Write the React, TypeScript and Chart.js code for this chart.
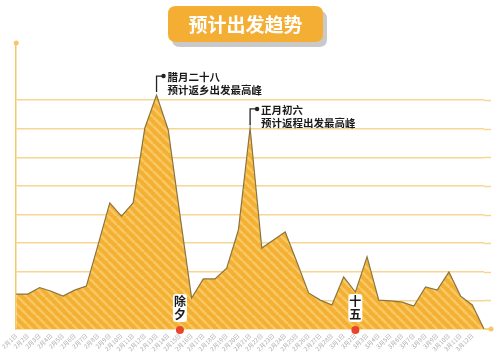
import React, { useEffect, useRef } from 'react';
import { Chart, registerables } from 'chart.js';
Chart.register(...registerables);

const dateLabels = [
  '2月1日', '2月2日', '2月3日', '2月4日', '2月5日', '2月6日', '2月7日', '2月8日', '2月9日', '2月10日',
  '2月11日', '2月12日', '2月13日', '2月14日', '2月15日', '2月16日', '2月17日', '2月18日', '2月19日', '2月20日',
  '2月21日', '2月22日', '2月23日', '2月24日', '2月25日', '2月26日', '2月27日', '2月28日', '3月1日', '3月2日',
  '3月3日', '3月4日', '3月5日', '3月6日', '3月7日', '3月8日', '3月9日', '3月10日', '3月11日', '3月12日',
  '',
];

const departures = [
  12.2, 12.2, 14.5, 13.2, 11.5, 13.6, 15.0, 29.4, 44.1, 39.5,
  44.1, 70.3, 81.8, 69.6, 39.9, 10.8, 17.5, 17.5, 21.3, 34.6,
  70.3, 28.3, 31.1, 33.9, 23.4, 12.6, 10.1, 8.4, 18.2, 12.9,
  25.2, 10.1, 9.8, 9.4, 8.0, 14.7, 13.6, 19.9, 11.5, 8.4,
  0,
];

const gridValues = [10, 20, 30, 40, 50, 60, 70, 80];
const yMax = 100;

const titleText = '预计出发趋势';
const peakIndexes = [12, 20];
const peakLines = [
  ['腊月二十八', '预计返乡出发最高峰'],
  ['正月初六', '预计返程出发最高峰'],
];
const festivalIndexes = [14, 29];
const festivalTexts = ['除夕', '十五'];

const CJK = '"Noto Sans CJK SC", "Noto Sans", sans-serif';
const GRID = '#F6D690';
const AXIS = '#F3C76A';

function roundRect(ctx: CanvasRenderingContext2D, x: number, y: number, w: number, h: number, r: number) {
  ctx.beginPath();
  ctx.moveTo(x + r, y);
  ctx.lineTo(x + w - r, y);
  ctx.quadraticCurveTo(x + w, y, x + w, y + r);
  ctx.lineTo(x + w, y + h - r);
  ctx.quadraticCurveTo(x + w, y + h, x + w - r, y + h);
  ctx.lineTo(x + r, y + h);
  ctx.quadraticCurveTo(x, y + h, x, y + h - r);
  ctx.lineTo(x, y + r);
  ctx.quadraticCurveTo(x, y, x + r, y);
  ctx.closePath();
}

function makePattern(): CanvasPattern | string {
  const s = 9;
  const c = document.createElement('canvas');
  c.width = s;
  c.height = s;
  const g = c.getContext('2d');
  if (!g) return '#F4B23A';
  g.fillStyle = '#F4B032';
  g.fillRect(0, 0, s, s);
  g.strokeStyle = '#F8C865';
  g.lineWidth = 2.6;
  for (const x0 of [-s, 0, s]) {
    g.beginPath();
    g.moveTo(x0, 0);
    g.lineTo(x0 + s, s);
    g.stroke();
  }
  const p = g.createPattern(c, 'repeat');
  return p || '#F4B23A';
}

const EXT = 7;

const decorPlugin = {
  id: 'decor',
  beforeDatasetsDraw(chart: any) {
    const ctx: CanvasRenderingContext2D = chart.ctx;
    const ys = chart.scales.y;
    const area = chart.chartArea;
    ctx.save();
    ctx.lineWidth = 1.5;
    ctx.strokeStyle = GRID;
    gridValues.forEach((v) => {
      const y = Math.round(ys.getPixelForValue(v)) + 0.5;
      ctx.beginPath();
      ctx.moveTo(area.right, y);
      ctx.lineTo(area.right + EXT, y);
      ctx.stroke();
    });
    ctx.restore();
  },
  afterDraw(chart: any) {
    const ctx: CanvasRenderingContext2D = chart.ctx;
    const xs = chart.scales.x;
    const ys = chart.scales.y;
    const area = chart.chartArea;
    ctx.save();

    // x axis extension and end dots
    ctx.strokeStyle = AXIS;
    ctx.lineWidth = 1.5;
    ctx.beginPath();
    ctx.moveTo(area.right, area.bottom);
    ctx.lineTo(area.right + EXT, area.bottom);
    ctx.stroke();
    ctx.fillStyle = AXIS;
    ctx.beginPath();
    ctx.arc(area.left, area.top, 2.5, 0, Math.PI * 2);
    ctx.fill();
    ctx.beginPath();
    ctx.arc(area.right + EXT, area.bottom, 2.5, 0, Math.PI * 2);
    ctx.fill();

    // title box
    const bx = 168, by = 6, bw = 155, bh = 36;
    ctx.fillStyle = '#C9C9C9';
    roundRect(ctx, bx + 4, by + 5, bw, bh, 8);
    ctx.fill();
    ctx.fillStyle = '#F4AE34';
    roundRect(ctx, bx, by, bw, bh, 8);
    ctx.fill();
    ctx.fillStyle = '#FFFFFF';
    ctx.font = 'bold 19px ' + CJK;
    ctx.textAlign = 'center';
    ctx.textBaseline = 'middle';
    ctx.fillText(titleText, bx + bw / 2, by + bh / 2 + 1);

    // peak notes
    peakIndexes.forEach((idx, k) => {
      const px = xs.getPixelForValue(idx);
      const py = ys.getPixelForValue(departures[idx] as number);
      const topY = py - 19;
      ctx.strokeStyle = '#222';
      ctx.lineWidth = 1.3;
      ctx.beginPath();
      ctx.moveTo(px, py - 3);
      ctx.lineTo(px, topY);
      ctx.lineTo(px + 6, topY);
      ctx.stroke();
      ctx.fillStyle = '#222';
      ctx.beginPath();
      ctx.arc(px + 7, topY, 2.2, 0, Math.PI * 2);
      ctx.fill();
      ctx.font = 'bold 10.5px ' + CJK;
      ctx.textAlign = 'left';
      ctx.textBaseline = 'middle';
      ctx.fillStyle = '#1a1a1a';
      ctx.fillText(peakLines[k][0], px + 11, topY + 1);
      ctx.fillText(peakLines[k][1], px + 11, topY + 14);
    });

    // festival marks
    festivalIndexes.forEach((idx, k) => {
      const fx = xs.getPixelForValue(idx);
      const w = 14, h = 28;
      const top = area.bottom - 35;
      ctx.fillStyle = '#FFFFFF';
      roundRect(ctx, fx - w / 2, top, w, h, 3);
      ctx.fill();
      ctx.fillStyle = '#1a1a1a';
      ctx.font = 'bold 12px ' + CJK;
      ctx.textAlign = 'center';
      ctx.textBaseline = 'middle';
      const t = festivalTexts[k];
      ctx.fillText(t[0], fx, top + 7.5);
      ctx.fillText(t[1], fx, top + 20.5);
      ctx.fillStyle = '#E8452C';
      ctx.beginPath();
      ctx.arc(fx, area.bottom + 1, 4, 0, Math.PI * 2);
      ctx.fill();
    });

    ctx.restore();
  },
};

export default function App() {
  const ref = useRef<HTMLCanvasElement>(null);

  useEffect(() => {
    document.body.style.margin = '0';
    const canvas = ref.current;
    if (!canvas) return;
    const chart = new Chart(canvas, {
      type: 'line',
      data: {
        labels: dateLabels,
        datasets: [
          {
            data: departures,
            borderColor: '#8A7540',
            borderWidth: 1.2,
            backgroundColor: makePattern() as any,
            fill: 'origin',
            pointRadius: 0,
            tension: 0,
          },
        ],
      },
      options: {
        animation: false,
        responsive: false,
        maintainAspectRatio: false,
        layout: { padding: { left: 12, top: 43, right: 16, bottom: 0 } },
        plugins: { legend: { display: false }, tooltip: { enabled: false }, title: { display: false } },
        scales: {
          x: {
            grid: { display: false, drawTicks: false },
            border: { display: true, color: AXIS, width: 1.5 },
            ticks: {
              autoSkip: false,
              maxRotation: 45,
              minRotation: 45,
              padding: 3,
              color: '#ABABAB',
              font: { size: 6, family: CJK },
            },
            afterFit: (scale: any) => {
              scale.height = 29;
            },
          },
          y: {
            min: 0,
            max: yMax,
            ticks: { display: false, stepSize: 10 },
            grid: {
              drawTicks: false,
              lineWidth: 1.5,
              color: (c: any) => (gridValues.includes(c.tick && c.tick.value) ? GRID : 'rgba(0,0,0,0)'),
            },
            border: { display: true, color: AXIS, width: 1.5 },
            afterFit: (scale: any) => {
              scale.width = 0;
            },
          },
        },
      },
      plugins: [decorPlugin],
    });
    return () => chart.destroy();
  }, []);

  return (
    <div style={{ position: 'absolute', left: 0, top: 0, width: 500, height: 358, background: '#fff' }}>
      <canvas ref={ref} width={500} height={358} style={{ width: 500, height: 358, display: 'block' }} />
    </div>
  );
}
